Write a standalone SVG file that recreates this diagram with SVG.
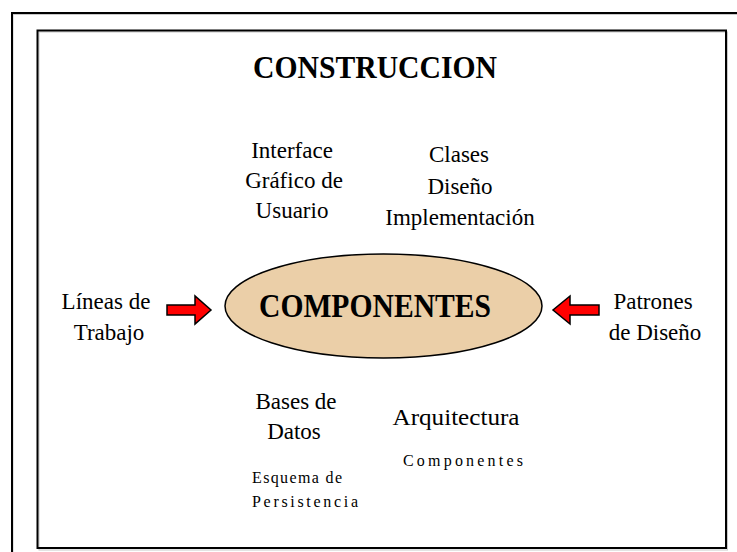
<svg xmlns="http://www.w3.org/2000/svg" width="737" height="552" viewBox="0 0 737 552">
<style>
  .frame { fill: none; stroke: #000; stroke-width: 2; }
  .shadow { fill: none; stroke: #c8c8c8; stroke-width: 1; }
  .t { font-family: "Liberation Serif", "Times New Roman", serif; fill: #000; text-anchor: middle; }
  .lbl { font-size: 23px; }
  .small { font-size: 16px; }
  .title { font-size: 31px; font-weight: bold; }
  .arrow { fill: #ff0000; stroke: #000; stroke-width: 1.5; stroke-linejoin: miter; }
</style>
<rect width="737" height="552" fill="#fff"/>
<g id="frames">
  <rect class="shadow" x="13" y="14.5" width="740" height="560"/>
  <rect class="frame" x="12" y="13" width="740" height="560"/>
  <rect class="shadow" x="39" y="32" width="688.5" height="518"/>
  <rect class="frame" x="37.5" y="30.5" width="688.5" height="517.5"/>
</g>
<g id="title">
  <text class="t title" x="375" y="78" textLength="244" lengthAdjust="spacingAndGlyphs">CONSTRUCCION</text>
</g>
<g id="interface">
  <text class="t lbl" x="292" y="158">Interface</text>
  <text class="t lbl" x="294" y="188">Gráfico de</text>
  <text class="t lbl" x="292" y="218">Usuario</text>
</g>
<g id="clases">
  <text class="t lbl" x="459" y="162">Clases</text>
  <text class="t lbl" x="460" y="194">Diseño</text>
  <text class="t lbl" x="460" y="225">Implementación</text>
</g>
<g id="componentes">
  <ellipse cx="383.5" cy="306" rx="158.5" ry="52" fill="#ebcfa8" stroke="#000" stroke-width="1.5"/>
  <text class="t" x="375" y="317" font-size="33" font-weight="bold" textLength="232" lengthAdjust="spacingAndGlyphs">COMPONENTES</text>
</g>
<g id="lineas">
  <text class="t lbl" x="106" y="309">Líneas de</text>
  <text class="t lbl" x="109" y="340">Trabajo</text>
</g>
<g id="patrones">
  <text class="t lbl" x="653" y="309">Patrones</text>
  <text class="t lbl" x="655" y="340">de Diseño</text>
</g>
<g id="bases">
  <text class="t lbl" x="296" y="409">Bases de</text>
  <text class="t lbl" x="294" y="439">Datos</text>
</g>
<g id="esquema">
  <text class="t small" x="297" y="483" textLength="90" lengthAdjust="spacing">Esquema de</text>
  <text class="t small" x="305" y="507" textLength="106" lengthAdjust="spacing">Persistencia</text>
</g>
<g id="arquitectura">
  <text class="t lbl" x="456" y="425" textLength="127" lengthAdjust="spacingAndGlyphs">Arquitectura</text>
  <text class="t small" x="463" y="466" textLength="120" lengthAdjust="spacing">Componentes</text>
</g>
<g id="connectors">
  <polygon class="arrow" points="167,305 195,305 195,296 211,310 195,324 195,315 167,315"/>
  <polygon class="arrow" points="599,305 570,305 570,296 553,310 570,324 570,315 599,315"/>
</g>
</svg>
